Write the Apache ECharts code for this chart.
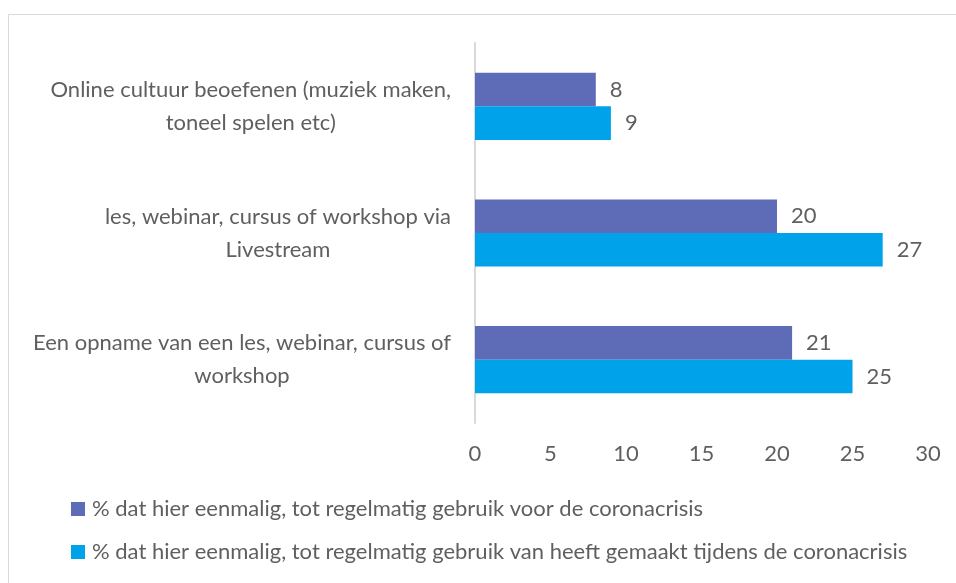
<!DOCTYPE html>
<html>
<head>
<meta charset="utf-8">
<script src="https://cdn.jsdelivr.net/npm/echarts@6/dist/echarts.min.js"></script>
<style>
  html, body { margin: 0; padding: 0; background: #fff; }
  #main { width: 956px; height: 583px; }
</style>
</head>
<body>
<div id="main"></div>
<script>
// categories, top to bottom
const categories = [
  'Online cultuur beoefenen (muziek maken,\ntoneel spelen etc)',
  'les, webinar, cursus of workshop via\nLivestream',
  'Een opname van een les, webinar, cursus of\nworkshop'
];
const seriesNames = [
  '% dat hier eenmalig, tot regelmatig gebruik voor de coronacrisis',
  '% dat hier eenmalig, tot regelmatig gebruik van heeft gemaakt tijdens de coronacrisis'
];
const voorValues = [8, 20, 21];
const tijdensValues = [9, 27, 25];
const xTicks = { min: 0, max: 30, interval: 5 };

const textColor = '#5f5f5f';
const fontFamily = 'Lato, "Source Sans Pro", sans-serif';
const fs = 22;

const chart = echarts.init(document.getElementById('main'));

const option = {
  animation: false,
  color: ['#5E6BB7', '#00A2E9'],
  textStyle: { fontFamily: fontFamily },
  graphic: [{
    type: 'rect',
    shape: { x: 8.5, y: 14.5, width: 1200, height: 1000 },
    style: { fill: 'none', stroke: '#d9d9d9', lineWidth: 1 },
    silent: true
  }],
  grid: { left: 475, right: 28, top: 43, bottom: 160 },
  legend: {
    orient: 'vertical',
    left: 71,
    top: 498,
    padding: 0,
    icon: 'rect',
    itemWidth: 14,
    itemHeight: 14,
    itemGap: 21,
    textStyle: { color: textColor, fontSize: fs, fontFamily: fontFamily, padding: [0, 0, 0, 2] },
    data: seriesNames
  },
  xAxis: {
    type: 'value',
    min: xTicks.min,
    max: xTicks.max,
    interval: xTicks.interval,
    splitLine: { show: false },
    axisLine: { show: false },
    axisTick: { show: false },
    axisLabel: { color: textColor, fontSize: fs, margin: 20, fontFamily: fontFamily }
  },
  yAxis: {
    type: 'category',
    inverse: true,
    data: categories,
    axisLine: { show: true, lineStyle: { color: '#d9d9d9', width: 2 } },
    axisTick: { show: false },
    axisLabel: {
      align: 'right',
      margin: 24,
      formatter: function (v) {
        return v.split('\n').map(function (s) { return '{c|' + s + '}'; }).join('\n');
      },
      rich: {
        c: { align: 'center', fontSize: fs, lineHeight: 33, color: textColor, fontFamily: fontFamily }
      }
    }
  },
  series: [{
    name: seriesNames[0],
    type: 'bar',
    data: voorValues,
    barGap: '0%',
    barCategoryGap: '47%',
    label: { show: true, position: 'right', distance: 14, color: textColor, fontSize: fs, fontFamily: fontFamily }
  }, {
    name: seriesNames[1],
    type: 'bar',
    data: tijdensValues,
    barGap: '0%',
    barCategoryGap: '47%',
    label: { show: true, position: 'right', distance: 14, color: textColor, fontSize: fs, fontFamily: fontFamily }
  }]
};

chart.setOption(option);
</script>
</body>
</html>
